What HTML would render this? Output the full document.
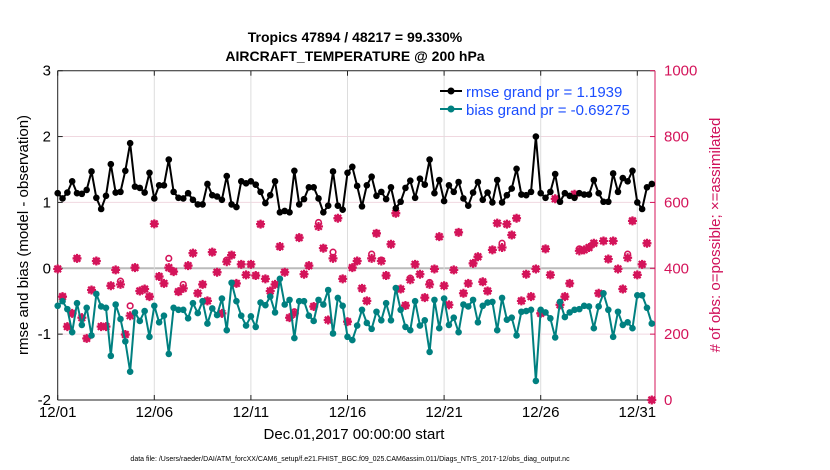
<!DOCTYPE html>
<html><head><meta charset="utf-8"><style>
body{margin:0;background:#fff;}
svg{display:block;font-family:"Liberation Sans",Arial,sans-serif;}
</style></head><body>
<svg id="chart" width="830" height="470" viewBox="0 0 830 470">
<g>
<text x="355" y="42" text-anchor="middle" font-size="14" font-weight="bold">Tropics 47894 / 48217 = 99.330%</text>
<text x="355" y="61" text-anchor="middle" font-size="14" font-weight="bold">AIRCRAFT_TEMPERATURE @ 200 hPa</text>
</g>
<g id="grid"></g>
<g id="axes"></g>
<g id="series"></g>
<g>
<line x1="440" y1="91" x2="462" y2="91" stroke="#000" stroke-width="2"/>
<circle cx="451" cy="91" r="3.5" fill="#000"/>
<text x="466" y="97" font-size="15" fill="#1a4dff">rmse grand pr = 1.1939</text>
<line x1="440" y1="109" x2="462" y2="109" stroke="#008080" stroke-width="2"/>
<circle cx="451" cy="109" r="3.5" fill="#008080"/>
<text x="466" y="115" font-size="15" fill="#1a4dff">bias grand pr = -0.69275</text>
</g>
<text x="354" y="439" text-anchor="middle" font-size="15">Dec.01,2017 00:00:00 start</text>
<text transform="translate(28,235) rotate(-90)" text-anchor="middle" font-size="15">rmse and bias (model - observation)</text>
<text transform="translate(720,235) rotate(-90)" text-anchor="middle" font-size="15" fill="#d0105a"># of obs: o=possible; ×=assimilated</text>
<text x="350" y="461" text-anchor="middle" font-size="7">data file: /Users/raeder/DAI/ATM_forcXX/CAM6_setup/f.e21.FHIST_BGC.f09_025.CAM6assim.011/Diags_NTrS_2017-12/obs_diag_output.nc</text>
</svg>
<script>
const xTickLabels=["12/01","12/06","12/11","12/16","12/21","12/26","12/31"];
const xTickDays=[0,5,10,15,20,25,30];
const yTicksLeft=[3,2,1,0,-1,-2];
const yTicksRight=[0,200,400,600,800,1000];
const rmse=[1.14,1.06,1.15,1.32,1.14,1.13,1.19,1.47,1.07,0.90,1.10,1.58,1.15,1.16,1.48,1.90,1.24,1.22,1.15,1.45,1.06,1.26,1.26,1.65,1.16,1.07,1.06,1.14,1.04,0.97,0.97,1.28,1.11,1.09,1.04,1.40,0.97,0.93,1.32,1.29,
1.32,1.27,1.16,0.99,1.11,1.32,0.85,0.87,0.85,1.48,0.97,1.05,1.23,1.23,1.06,0.85,0.95,1.47,0.95,0.89,1.45,1.54,1.25,0.94,1.26,1.39,1.10,1.16,1.05,1.23,0.91,1.01,1.22,1.33,1.07,1.36,1.27,1.65,1.14,
1.34,1.02,1.26,1.16,1.31,1.06,0.95,1.15,1.31,1.04,1.15,1.00,1.34,1.00,1.11,1.21,1.51,1.12,1.11,1.16,2.00,1.14,1.07,1.16,1.43,1.01,1.14,1.10,1.07,1.14,1.12,1.12,1.34,1.14,1.01,1.01,1.44,1.16,1.37,1.32,1.48,1.00,0.90,1.23,1.28];
const bias=[-0.57,-0.50,-0.62,-0.97,-0.53,-0.86,-0.60,-1.02,-0.39,-0.58,-0.60,-1.33,-0.55,-0.77,-1.11,-1.57,-0.67,-0.80,-0.65,-1.04,-0.57,-0.82,-0.72,-1.30,-0.60,-0.63,-0.63,-0.76,-0.53,-0.68,-0.50,-0.84,-0.61,-0.71,-0.46,-0.94,-0.22,-0.50,-0.72,-0.87,
-0.73,-0.89,-0.52,-0.56,-0.43,-0.67,-0.16,-0.55,-0.48,-1.06,-0.50,-0.50,-0.72,-0.80,-0.48,-0.55,-0.33,-0.99,-0.45,-0.57,-1.04,-1.09,-0.87,-0.63,-0.83,-0.92,-0.66,-0.79,-0.53,-0.79,-0.30,-0.63,-0.89,-0.94,-0.50,-0.87,-0.79,-1.27,-0.48,
-0.91,-0.46,-0.86,-0.75,-0.97,-0.55,-0.58,-0.48,-0.82,-0.57,-0.52,-0.51,-0.94,-0.45,-0.78,-0.75,-1.02,-0.66,-0.65,-0.63,-1.71,-0.63,-0.67,-0.76,-1.05,-0.51,-0.74,-0.67,-0.63,-0.62,-0.57,-0.58,-0.91,-0.58,-0.38,-0.63,-1.04,-0.66,-0.86,-0.82,-0.91,-0.41,-0.41,-0.60,-0.84];
const nAssim=[398,314,223,263,430,250,187,334,422,223,223,347,395,351,199,256,402,331,337,314,535,375,354,402,390,329,339,408,446,324,351,301,449,388,263,420,440,354,412,380,
412,378,534,368,331,351,466,388,250,263,493,382,408,284,527,461,243,430,552,368,238,402,422,339,301,430,506,422,378,473,567,337,287,365,412,382,311,351,398,
496,347,289,395,509,324,354,415,435,359,331,456,537,463,534,501,552,301,382,314,398,263,459,380,611,289,314,354,625,453,456,463,476,324,483,428,483,398,337,432,544,380,412,476,0];
const nPossExtra=[0,0,0,0,0,0,0,0,0,0,0,0,0,10,0,30,0,0,0,0,0,0,0,28,0,0,12,0,0,0,0,0,0,0,0,5,0,0,0,0,
0,0,0,0,0,0,0,0,0,5,0,0,0,0,12,0,0,19,0,0,0,0,0,0,0,13,0,3,0,0,0,0,0,5,0,0,0,6,0,
0,0,0,0,0,0,0,0,0,0,0,0,0,13,0,0,0,0,0,0,0,0,0,0,0,0,0,0,0,6,0,0,0,0,0,0,0,0,0,11,0,0,0,0,0];

const NS="http://www.w3.org/2000/svg";
const X0=57.7, X1=655, Y3=70.7, Ym2=400;
const dayPx=19.32;
const xDay=d=>X0+d*dayPx;
const yL=v=>Ym2-(v+2)*(Ym2-Y3)/5;
const yR=c=>Ym2-c*(Ym2-Y3)/1000;
function mk(tag,attrs,parent){const e=document.createElementNS(NS,tag);for(const k in attrs)e.setAttribute(k,attrs[k]);parent.appendChild(e);return e;}
const grid=document.getElementById('grid'),axes=document.getElementById('axes'),ser=document.getElementById('series');
const MAG="#d4145a";
yTicksLeft.forEach(v=>{if(v===3||v===-2)return;
  const l=mk('line',{x1:X0,x2:X1,y1:yL(v),y2:yL(v),stroke:v===0?'#bbb':'#f0d8e0','stroke-width':v===0?2:1},grid);
  
  
});
xTickDays.forEach((d,i)=>{
  if(i>0){const l=mk('line',{x1:xDay(d),x2:xDay(d),y1:Y3,y2:Ym2,stroke:'#ddd','stroke-width':1},grid);
  
  }
  const t=mk('text',{x:xDay(d),y:417,'text-anchor':'middle','font-size':15},axes);
  t.textContent=xTickLabels[i];
  
  
  mk('line',{x1:xDay(d),x2:xDay(d),y1:Ym2,y2:Ym2-5,stroke:'#222'},axes);
  mk('line',{x1:xDay(d),x2:xDay(d),y1:Y3,y2:Y3+5,stroke:'#222'},axes);
});
mk('line',{x1:X0,x2:X1,y1:Y3,y2:Y3,stroke:'#222'},axes);
mk('line',{x1:X0,x2:X1,y1:Ym2,y2:Ym2,stroke:'#222'},axes);
mk('line',{x1:X0,x2:X0,y1:Y3,y2:Ym2,stroke:'#222'},axes);
mk('line',{x1:X1,x2:X1,y1:Y3,y2:Ym2,stroke:MAG},axes);
yTicksLeft.forEach(v=>{
  const t=mk('text',{x:51,y:yL(v)+5,'text-anchor':'end','font-size':15},axes);
  t.textContent=v;
  
  
  mk('line',{x1:X0,x2:X0+5,y1:yL(v),y2:yL(v),stroke:'#222'},axes);
});
yTicksRight.forEach(c=>{
  const t=mk('text',{x:664,y:yR(c)+5,'font-size':15,fill:MAG},axes);
  t.textContent=c;
  
  
  mk('line',{x1:X1-5,x2:X1,y1:yR(c),y2:yR(c),stroke:MAG},axes);
});
const step=dayPx/4;
const xi=i=>X0+i*step;
nAssim.forEach((c,i)=>{
  const x=xi(i),y=yR(c);
  const g=mk('g',{},ser);
  
  
  mk('path',{d:`M${x-4.5},${y}H${x+4.5}M${x},${y-4.5}V${y+4.5}M${x-3.3},${y-3.3}L${x+3.3},${y+3.3}M${x-3.3},${y+3.3}L${x+3.3},${y-3.3}`,stroke:MAG,'stroke-width':2.2},g);
  const yp=yR(c+nPossExtra[i]);
  const o=mk('circle',{cx:x,cy:yp,r:2.8,fill:'none',stroke:MAG,'stroke-width':1.6},ser);
  
  
});
function line(vals,color,name){
  const p=mk('polyline',{points:vals.map((v,i)=>xi(i)+','+yL(v)).join(' '),fill:'none',stroke:color,'stroke-width':2,'stroke-linejoin':'round'},ser);
  
  
  vals.forEach((v,i)=>{
    const c=mk('circle',{cx:xi(i),cy:yL(v),r:3.3,fill:color},ser);
    
    
  });
}
line(bias,'#008080','bias');
line(rmse,'#000','rmse');
</script>
</body></html>
